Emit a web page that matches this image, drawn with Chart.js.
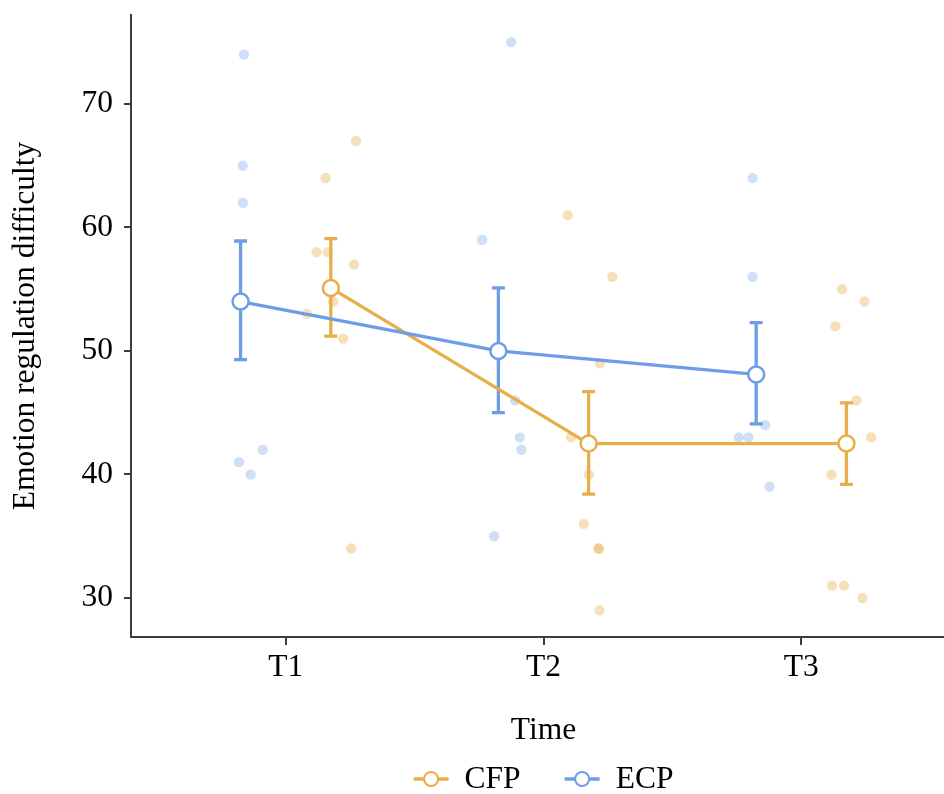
<!DOCTYPE html>
<html>
<head>
<meta charset="utf-8">
<script src="https://cdn.jsdelivr.net/npm/chart.js@4.4.1/dist/chart.umd.min.js"></script>
<style>
html, body { margin:0; padding:0; background:#fff; overflow:hidden; width:944px; height:794px; }
#wrap { width:958px; height:794px; }
</style>
</head>
<body>
<div id="wrap"><canvas id="myChart" width="958" height="794" style="width:958px;height:794px"></canvas></div>
<script>
// time points and groups
var timeLabels = ['T1', 'T2', 'T3'];
var groupNames = ['CFP', 'ECP'];
var yTicks = [30, 40, 50, 60, 70];

// group means and error bar ends
var cfpMean = [55.1, 42.5, 42.5];
var ecpMean = [54.0, 50.0, 48.1];
var cfpLow = [51.2, 38.4, 39.2];
var cfpHigh = [59.1, 46.7, 45.8];
var ecpLow = [49.3, 45.0, 44.1];
var ecpHigh = [58.9, 55.1, 52.3];

// individual scores (x = jittered time position)
var cfpRawX = [1.273, 1.155, 1.120, 1.164, 1.265, 1.184, 1.082, 1.223, 1.254,
               2.094, 2.267, 2.219, 2.107, 2.176, 2.156, 2.212, 2.216, 2.217,
               3.158, 3.245, 3.132, 3.214, 3.271, 3.117, 3.119, 3.166, 3.237];
var cfpRawY = [67, 64, 58, 58, 57, 54, 53, 51, 34,
               61, 56, 49, 43, 40, 36, 34, 34, 29,
               55, 54, 52, 46, 43, 40, 31, 31, 30];
var ecpRawX = [0.838, 0.833, 0.834, 0.819, 0.864, 0.911,
               1.875, 1.762, 1.890, 1.908, 1.914, 1.809,
               2.811, 2.811, 2.860, 2.757, 2.795, 2.877];
var ecpRawY = [74, 65, 62, 41, 40, 42,
               75, 59, 46, 43, 42, 35,
               64, 56, 44, 43, 43, 39];

var orange = '#E8AE4A';
var blue = '#6E9DE8';
var orangeLight = 'rgba(232,174,74,0.38)';
var blueLight = 'rgba(110,157,232,0.32)';
var dodge = 0.175;
var axisColor = '#3d3d3d';
var fontFam = '"Liberation Serif", "Times New Roman", serif';
var fontSize = 31.5;

function pts(xs, ys) {
    return xs.map(function (x, i) { return { x: x, y: ys[i] }; });
}
function meanPts(means, off) {
    return means.map(function (m, i) { return { x: i + 1 + off, y: m }; });
}

var errorBars = {
    id: 'errorBars',
    afterDatasetDraw: function (chart, args) {
        if (args.index !== 2) return;
        var xs = chart.scales.x, ys = chart.scales.y, ctx = chart.ctx;
        var sets = [[cfpLow, cfpHigh, dodge, orange], [ecpLow, ecpHigh, -dodge, blue]];
        ctx.save();
        ctx.lineWidth = 3.3;
        sets.forEach(function (s) {
            ctx.strokeStyle = s[3];
            for (var i = 0; i < timeLabels.length; i++) {
                var px = xs.getPixelForValue(i + 1 + s[2]);
                var top = ys.getPixelForValue(s[1][i]);
                var bot = ys.getPixelForValue(s[0][i]);
                ctx.beginPath();
                ctx.moveTo(px, top); ctx.lineTo(px, bot);
                ctx.moveTo(px - 6.5, top); ctx.lineTo(px + 6.5, top);
                ctx.moveTo(px - 6.5, bot); ctx.lineTo(px + 6.5, bot);
                ctx.stroke();
            }
        });
        ctx.restore();
    }
};

var legendBox = {
    id: 'legendBox',
    afterDraw: function (chart) {
        var ctx = chart.ctx;
        var cols = [orange, blue];
        var symW = 35, gap = 16, between = 44, y = 779;
        ctx.save();
        ctx.font = fontSize + 'px ' + fontFam;
        var widths = groupNames.map(function (g) { return ctx.measureText(g).width; });
        var total = 0;
        widths.forEach(function (w, i) { total += symW + gap + w + (i ? 0 : between); });
        var x = (chart.chartArea.left + chart.chartArea.right) / 2 - total / 2;
        groupNames.forEach(function (g, i) {
            ctx.strokeStyle = cols[i];
            ctx.lineWidth = 3.3;
            ctx.beginPath();
            ctx.moveTo(x, y); ctx.lineTo(x + symW, y);
            ctx.stroke();
            ctx.beginPath();
            ctx.arc(x + symW / 2, y, 7, 0, Math.PI * 2);
            ctx.fillStyle = '#fff';
            ctx.fill();
            ctx.lineWidth = 2;
            ctx.stroke();
            ctx.fillStyle = '#000';
            ctx.textBaseline = 'middle';
            ctx.textAlign = 'left';
            ctx.fillText(g, x + symW + gap, y + 1);
            x += symW + gap + widths[i] + between;
        });
        ctx.restore();
    }
};

var ctx = document.getElementById('myChart');
new Chart(ctx, {
    type: 'scatter',
    data: {
        datasets: [
            {
                type: 'line', label: 'CFP', data: meanPts(cfpMean, dodge), order: 2,
                borderColor: orange, borderWidth: 3.3, tension: 0,
                pointRadius: 8, pointBorderWidth: 2.5, pointBackgroundColor: '#fff', pointBorderColor: orange
            },
            {
                type: 'line', label: 'ECP', data: meanPts(ecpMean, -dodge), order: 1,
                borderColor: blue, borderWidth: 3.3, tension: 0,
                pointRadius: 8, pointBorderWidth: 2.5, pointBackgroundColor: '#fff', pointBorderColor: blue
            },
            {
                label: 'CFP raw', data: pts(cfpRawX, cfpRawY), order: 3,
                pointRadius: 5.2, pointBorderWidth: 0, backgroundColor: orangeLight, borderColor: 'rgba(0,0,0,0)'
            },
            {
                label: 'ECP raw', data: pts(ecpRawX, ecpRawY), order: 4,
                pointRadius: 5.2, pointBorderWidth: 0, backgroundColor: blueLight, borderColor: 'rgba(0,0,0,0)'
            }
        ]
    },
    options: {
        responsive: false,
        animation: false,
        devicePixelRatio: 1,
        layout: { autoPadding: false, padding: { top: 15, right: 2, bottom: 40, left: 0 } },
        plugins: { legend: { display: false }, tooltip: { enabled: false } },
        scales: {
            x: {
                type: 'linear', min: 0.4, max: 3.6,
                afterBuildTicks: function (scale) {
                    scale.ticks = timeLabels.map(function (t, i) { return { value: i + 1 }; });
                },
                afterFit: function (scale) {
                    scale.height = 117;
                    scale.paddingLeft = 0; scale.paddingRight = 0;
                },
                ticks: {
                    color: '#000', padding: 4,
                    font: { family: fontFam, size: fontSize },
                    callback: function (v) { return timeLabels[v - 1]; }
                },
                grid: { drawOnChartArea: false, drawTicks: true, tickLength: 8, color: axisColor, lineWidth: 2 },
                border: { display: true, color: axisColor, width: 2 },
                title: { display: true, text: 'Time', color: '#000', padding: { top: 0, bottom: 4 },
                         font: { family: fontFam, size: fontSize } }
            },
            y: {
                min: 26.84, max: 77.2,
                afterBuildTicks: function (scale) {
                    scale.ticks = yTicks.map(function (v) { return { value: v }; });
                },
                afterFit: function (scale) {
                    scale.width = 131;
                    scale.paddingTop = 0; scale.paddingBottom = 0;
                },
                ticks: { color: '#000', padding: 11, font: { family: fontFam, size: fontSize } },
                grid: { drawOnChartArea: false, drawTicks: true, tickLength: 7, color: axisColor, lineWidth: 2 },
                border: { display: true, color: axisColor, width: 2 },
                title: { display: true, text: 'Emotion regulation difficulty', color: '#000',
                         padding: { top: 7, bottom: 0 }, font: { family: fontFam, size: fontSize } }
            }
        }
    },
    plugins: [errorBars, legendBox]
});
</script>
</body>
</html>
